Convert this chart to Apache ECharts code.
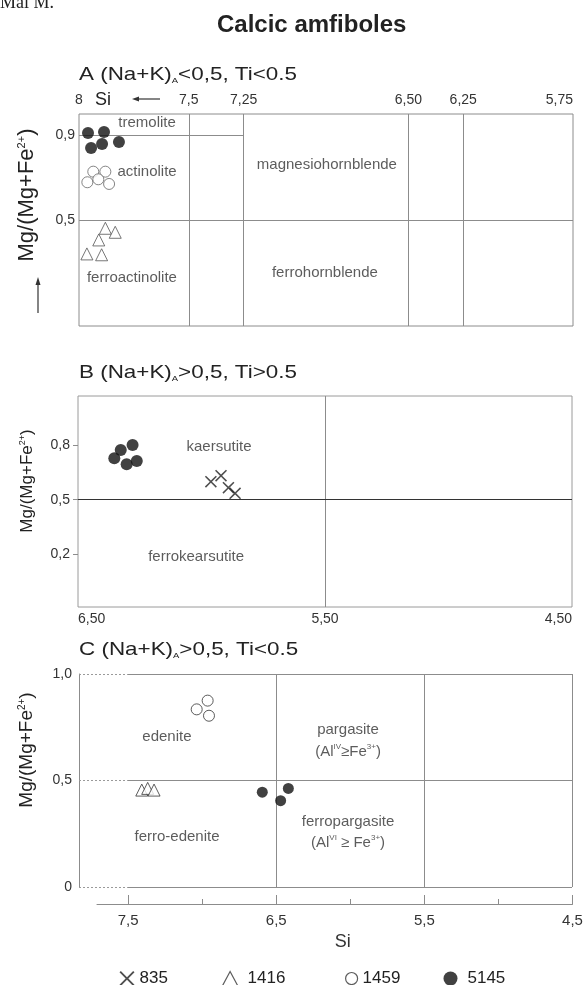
<!DOCTYPE html>
<html><head><meta charset="utf-8">
<script src="https://cdn.jsdelivr.net/npm/echarts@6/dist/echarts.min.js"></script>
<style>html,body{margin:0;padding:0;background:#fff}#c{width:584px;height:985px}</style>
</head><body><div id="c"></div>
<script>
// ---------- Panel A : (Na+K)A<0,5, Ti<0.5 ----------
const A_siTicks = [8, 7.5, 7.25, 6.5, 6.25, 5.75];
const A_siTickLabels = ['8', '7,5', '7,25', '6,50', '6,25', '5,75'];
const A_mgTicks = [0.5, 0.9];
const A_mgTickLabels = ['0,5', '0,9'];
const A_siBoundaries = [7.5, 7.25, 6.5, 6.25];
const A_mgBoundary = 0.5;
const A_tremoliteLimit = [[8, 0.9], [7.25, 0.9]];
const A_s5145 = [[7.959, 0.910], [7.886, 0.915], [7.945, 0.840], [7.895, 0.858], [7.818, 0.868]];
const A_s1459 = [[7.935, 0.728], [7.880, 0.728], [7.962, 0.678], [7.912, 0.692], [7.863, 0.670]];
const A_s1416 = [[7.880, 0.461], [7.835, 0.442], [7.910, 0.406], [7.964, 0.340], [7.897, 0.336]];
const A_fieldNames = ['tremolite', 'actinolite', 'ferroactinolite', 'magnesiohornblende', 'ferrohornblende'];
const A_fieldSi = [7.690, 7.690, 7.759, 6.871, 6.880];
const A_fieldMg = [0.958, 0.726, 0.226, 0.759, 0.250];

// ---------- Panel B : (Na+K)A>0,5, Ti>0.5 ----------
const B_siTicks = [6.5, 5.5, 4.5];
const B_siTickLabels = ['6,50', '5,50', '4,50'];
const B_mgTicks = [0.2, 0.5, 0.8];
const B_mgTickLabels = ['0,2', '0,5', '0,8'];
const B_siBoundary = 5.5;
const B_mgBoundary = 0.5;
const B_s5145 = [[6.353, 0.728], [6.327, 0.773], [6.279, 0.801], [6.303, 0.695], [6.262, 0.713]];
const B_s835 = [[5.962, 0.599], [5.921, 0.632], [5.891, 0.566], [5.864, 0.535]];
const B_fieldNames = ['kaersutite', 'ferrokearsutite'];
const B_fieldSi = [5.929, 6.022];
const B_fieldMg = [0.790, 0.185];

// ---------- Panel C : (Na+K)A>0,5, Ti<0.5 ----------
const C_siTicks = [7.5, 6.5, 5.5, 4.5];
const C_siTickLabels = ['7,5', '6,5', '5,5', '4,5'];
const C_siMinorTicks = [7, 6, 5];
const C_mgTicks = [0, 0.5, 1];
const C_mgTickLabels = ['0', '0,5', '1,0'];
const C_siBoundaries = [6.5, 5.5];
const C_mgLines = [1, 0.5, 0];
const C_dottedUntil = 7.5;
const C_s1459 = [[7.035, 0.834], [6.961, 0.875], [6.952, 0.804]];
const C_s1416 = [[7.406, 0.455], [7.366, 0.463], [7.323, 0.455]];
const C_s5145 = [[6.592, 0.445], [6.468, 0.405], [6.416, 0.463]];
const C_fieldNames = ['edenite', 'ferro-edenite', 'pargasite', '(Al{sup|IV}≥Fe{sup|3+})', 'ferropargasite', '(Al{sup|VI} ≥ Fe{sup|3+})'];
const C_fieldSi = [7.236, 7.168, 6.013, 6.013, 6.013, 6.013];
const C_fieldMg = [0.704, 0.235, 0.737, 0.634, 0.305, 0.207];

const sampleNames = ['835', '1416', '1459', '5145'];

// ---------- axis extents ----------
const A_x = [5.75, 8], A_y = [0, 1];
const B_x = [4.5, 6.5], B_y = [-0.09, 1.07];
const C_x = [4.5, 7.83], C_y = [0, 1];
const C_axisX = [4.5, 7.71];

const FONT = '"Liberation Sans", Arial, Helvetica, sans-serif';
const CROSS = 'path://M0,0.9L0.9,0L5,4.1L9.1,0L10,0.9L5.9,5L10,9.1L9.1,10L5,5.9L0.9,10L0,9.1L4.1,5Z';

function fmt(ticks, labels) {
  return v => { const i = ticks.findIndex(t => Math.abs(t - v) < 1e-6); return i >= 0 ? labels[i] : ''; };
}
function pts(arr) { return arr.map(p => p.slice()); }
function fields(names, si, mg) { return names.map((n, i) => ({ name: n, value: [si[i], mg[i]] })); }

const styles = {
  '5145': { symbol: 'circle', itemStyle: { color: '#111' } },
  '1459': { symbol: 'circle', itemStyle: { color: '#fff', borderColor: '#666', borderWidth: 1 } },
  '1416': { symbol: 'triangle', itemStyle: { color: '#fff', borderColor: '#555', borderWidth: 1 } },
  '835': { symbol: CROSS, itemStyle: { color: '#222' } }
};
function sampleSeries(name, grid, data, size, extra) {
  return Object.assign({
    type: 'scatter', name, xAxisIndex: grid, yAxisIndex: grid, data: pts(data),
    symbol: styles[name].symbol, symbolSize: size,
    itemStyle: JSON.parse(JSON.stringify(styles[name].itemStyle)),
    z: 5, emphasis: { disabled: true }
  }, extra || {});
}
const lineBase = { silent: true, symbol: ['none', 'none'], label: { show: false }, animation: false, emphasis: { disabled: true } };
function labelSeries(grid, data, markData, lineColor) {
  return {
    type: 'scatter', xAxisIndex: grid, yAxisIndex: grid, data, symbolSize: 0, z: 3,
    itemStyle: { color: 'rgba(0,0,0,0)' },
    label: {
      show: true, position: 'inside', formatter: p => p.name, fontSize: 15, color: '#333', fontFamily: FONT,
      lineHeight: 18, rich: { sup: { fontSize: 8, verticalAlign: 'top', lineHeight: 18, color: '#333', fontFamily: FONT } }
    },
    emphasis: { disabled: true },
    markLine: Object.assign({}, lineBase, { lineStyle: { color: lineColor || '#8c8c8c', width: 1, type: 'solid' }, data: markData })
  };
}

const axisText = { color: '#333', fontFamily: FONT, fontSize: 14 };
const legendText = { fontSize: 17, color: '#222', fontFamily: FONT };

const option = {
  animation: false,
  backgroundColor: '#fff',
  textStyle: { fontFamily: FONT },
  grid: [
    { left: 79, top: 114, width: 494, height: 212, show: true, borderColor: '#8c8c8c', borderWidth: 1, outerBoundsMode: 'none' },
    { left: 78, top: 396, width: 494, height: 211, show: true, borderColor: '#9a9a9a', borderWidth: 1, outerBoundsMode: 'none' },
    { left: 79, top: 674, width: 493, height: 213, show: false, outerBoundsMode: 'none' },
    { left: 97, top: 860, width: 475.5, height: 44, show: false, outerBoundsMode: 'none' }
  ],
  xAxis: [
    { gridIndex: 0, type: 'value', min: A_x[0], max: A_x[1], inverse: true, position: 'top',
      axisLine: { show: false }, axisTick: { show: false }, splitLine: { show: false },
      axisLabel: Object.assign({ customValues: A_siTicks, formatter: fmt(A_siTicks, A_siTickLabels), margin: 7, alignMaxLabel: 'right', alignMinLabel: 'center' }, axisText) },
    { gridIndex: 1, type: 'value', min: B_x[0], max: B_x[1], inverse: true, position: 'bottom',
      axisLine: { show: false }, axisTick: { show: false }, splitLine: { show: false },
      axisLabel: Object.assign({ customValues: B_siTicks, formatter: fmt(B_siTicks, B_siTickLabels), margin: 5, alignMaxLabel: 'right', alignMinLabel: 'left' }, axisText) },
    { gridIndex: 2, type: 'value', min: C_x[0], max: C_x[1], inverse: true, show: false, splitLine: { show: false } },
    { gridIndex: 3, type: 'value', min: C_axisX[0], max: C_axisX[1], inverse: true, position: 'bottom',
      axisLine: { show: true, lineStyle: { color: '#8c8c8c', width: 1 } },
      axisTick: { show: true, inside: true, length: 9, customValues: C_siTicks, lineStyle: { color: '#8c8c8c' } },
      splitLine: { show: false },
      axisLabel: Object.assign({ customValues: C_siTicks, formatter: fmt(C_siTicks, C_siTickLabels), margin: 9 }, axisText, { fontSize: 15 }),
      name: 'Si', nameLocation: 'middle', nameGap: 29,
      nameTextStyle: { fontSize: 18, color: '#333', fontFamily: FONT, padding: [0, 0, 0, 16] } },
    { gridIndex: 3, type: 'value', min: C_axisX[0], max: C_axisX[1], inverse: true, position: 'bottom',
      axisLine: { show: false }, axisLabel: { show: false }, splitLine: { show: false },
      axisTick: { show: true, inside: true, length: 5, customValues: C_siMinorTicks, lineStyle: { color: '#8c8c8c' } } }
  ],
  yAxis: [
    { gridIndex: 0, type: 'value', min: A_y[0], max: A_y[1], axisLine: { show: false }, axisTick: { show: false }, splitLine: { show: false },
      axisLabel: Object.assign({ customValues: A_mgTicks, formatter: fmt(A_mgTicks, A_mgTickLabels), margin: 4 }, axisText) },
    { gridIndex: 1, type: 'value', min: B_y[0], max: B_y[1], axisLine: { show: false }, splitLine: { show: false },
      axisTick: { show: true, length: 5, customValues: B_mgTicks, lineStyle: { color: '#8c8c8c' } },
      axisLabel: Object.assign({ customValues: B_mgTicks, formatter: fmt(B_mgTicks, B_mgTickLabels), margin: 8 }, axisText) },
    { gridIndex: 2, type: 'value', min: C_y[0], max: C_y[1], axisLine: { show: true, lineStyle: { color: '#8c8c8c', width: 1 } },
      axisTick: { show: false }, splitLine: { show: false },
      axisLabel: Object.assign({ customValues: C_mgTicks, formatter: fmt(C_mgTicks, C_mgTickLabels), margin: 7 }, axisText) },
    { gridIndex: 3, type: 'value', min: 0, max: 1, show: false, splitLine: { show: false } }
  ],
  legend: [
    { data: ['835'], left: 119.5, top: 970, padding: 0, itemWidth: 15, itemHeight: 15, selectedMode: false,
      textStyle: legendText },
    { data: ['1416'], left: 222, top: 970, padding: 0, itemWidth: 15, itemHeight: 14, selectedMode: false,
      itemStyle: { color: '#fff', borderColor: '#333', borderWidth: 1.2 },
      textStyle: Object.assign({ padding: [0, 0, 0, 5] }, legendText) },
    { data: ['1459'], left: 345, top: 970, padding: 0, itemWidth: 12, itemHeight: 12, selectedMode: false,
      itemStyle: { color: '#fff', borderColor: '#333', borderWidth: 1.2 },
      textStyle: legendText },
    { data: ['5145'], left: 443.5, top: 970, padding: 0, itemWidth: 14, itemHeight: 14, selectedMode: false,
      textStyle: Object.assign({ padding: [0, 0, 0, 5] }, legendText) }
  ],
  graphic: [
    { type: 'text', x: 0, y: 3, silent: true,
      style: { text: 'Mai M.', fontSize: 18, fontFamily: '"Liberation Serif", "Times New Roman", serif', fill: '#222', align: 'left', verticalAlign: 'middle' } },
    { type: 'text', x: 217, y: 25, silent: true,
      style: { text: 'Calcic amfiboles', fontSize: 24, fontWeight: 'bold', fontFamily: FONT, fill: '#222', align: 'left', verticalAlign: 'middle' } },
    { type: 'text', x: 79, y: 75, scaleX: 1.18, silent: true,
      style: { text: 'A (Na+K){s|A}<0,5, Ti<0.5', fontSize: 19, fontFamily: FONT, fill: '#222', align: 'left', verticalAlign: 'middle',
        rich: { s: { fontSize: 8, fontFamily: FONT, fill: '#222', verticalAlign: 'bottom' } } } },
    { type: 'text', x: 79, y: 373, scaleX: 1.18, silent: true,
      style: { text: 'B (Na+K){s|A}>0,5, Ti>0.5', fontSize: 19, fontFamily: FONT, fill: '#222', align: 'left', verticalAlign: 'middle',
        rich: { s: { fontSize: 8, fontFamily: FONT, fill: '#222', verticalAlign: 'bottom' } } } },
    { type: 'text', x: 79, y: 650, scaleX: 1.18, silent: true,
      style: { text: 'C (Na+K){s|A}>0,5, Ti<0.5', fontSize: 19, fontFamily: FONT, fill: '#222', align: 'left', verticalAlign: 'middle',
        rich: { s: { fontSize: 8, fontFamily: FONT, fill: '#222', verticalAlign: 'bottom' } } } },
    { type: 'text', x: 27, y: 195, rotation: Math.PI / 2, silent: true,
      style: { text: 'Mg/(Mg+Fe{u|2+})', fontSize: 22, fontFamily: FONT, fill: '#222', align: 'center', verticalAlign: 'middle',
        rich: { u: { fontSize: 11, fontFamily: FONT, fill: '#222', verticalAlign: 'top' } } } },
    { type: 'text', x: 27, y: 481, rotation: Math.PI / 2, silent: true,
      style: { text: 'Mg/(Mg+Fe{u|2+})', fontSize: 17, fontFamily: FONT, fill: '#222', align: 'center', verticalAlign: 'middle',
        rich: { u: { fontSize: 9, fontFamily: FONT, fill: '#222', verticalAlign: 'top' } } } },
    { type: 'text', x: 27, y: 750, rotation: Math.PI / 2, silent: true,
      style: { text: 'Mg/(Mg+Fe{u|2+})', fontSize: 19, fontFamily: FONT, fill: '#222', align: 'center', verticalAlign: 'middle',
        rich: { u: { fontSize: 10, fontFamily: FONT, fill: '#222', verticalAlign: 'top' } } } },
    { type: 'line', silent: true, shape: { x1: 38, y1: 313, x2: 38, y2: 284 }, style: { stroke: '#333', lineWidth: 1.2 } },
    { type: 'polygon', silent: true, shape: { points: [[38, 277], [35.5, 285], [40.5, 285]] }, style: { fill: '#333' } },
    { type: 'text', x: 95, y: 100, silent: true,
      style: { text: 'Si', fontSize: 18, fontFamily: FONT, fill: '#222', align: 'left', verticalAlign: 'middle' } },
    { type: 'line', silent: true, shape: { x1: 137, y1: 99, x2: 160, y2: 99 }, style: { stroke: '#333', lineWidth: 1.2 } },
    { type: 'polygon', silent: true, shape: { points: [[132, 99], [139, 96.5], [139, 101.5]] }, style: { fill: '#333' } }
  ],
  series: [
    // Panel A
    labelSeries(0, fields(A_fieldNames, A_fieldSi, A_fieldMg), [
      ...A_siBoundaries.map(v => ({ xAxis: v })),
      { yAxis: A_mgBoundary },
      [{ coord: A_tremoliteLimit[0] }, { coord: A_tremoliteLimit[1] }]
    ]),
    sampleSeries('5145', 0, A_s5145, 12),
    sampleSeries('1459', 0, A_s1459, 11),
    sampleSeries('1416', 0, A_s1416, 12),
    // Panel B
    labelSeries(1, fields(B_fieldNames, B_fieldSi, B_fieldMg), [{ xAxis: B_siBoundary }]),
    { type: 'scatter', xAxisIndex: 1, yAxisIndex: 1, data: [], z: 4,
      markLine: Object.assign({}, lineBase, { lineStyle: { color: '#333', width: 1, type: 'solid' }, data: [{ yAxis: B_mgBoundary }] }) },
    sampleSeries('5145', 1, B_s5145, 12),
    sampleSeries('835', 1, B_s835, 12),
    // Panel C
    labelSeries(2, fields(C_fieldNames, C_fieldSi, C_fieldMg), [
      ...C_siBoundaries.map(v => ({ xAxis: v })),
      { xAxis: C_x[0] },
      ...C_mgLines.flatMap(m => [
        [{ coord: [C_x[1], m], lineStyle: { type: [2, 2], color: '#9a9a9a' } }, { coord: [C_dottedUntil, m] }],
        [{ coord: [C_dottedUntil, m] }, { coord: [C_x[0], m] }]
      ])
    ]),
    sampleSeries('1459', 2, C_s1459, 11, { itemStyle: { color: '#fff', borderColor: '#333', borderWidth: 1 } }),
    sampleSeries('1416', 2, C_s1416, 12, { itemStyle: { color: '#fff', borderColor: '#333', borderWidth: 1 } }),
    sampleSeries('5145', 2, C_s5145, 11)
  ]
};

const chart = echarts.init(document.getElementById('c'), null, { renderer: 'canvas' });
chart.setOption(option);
</script>
</body></html>
